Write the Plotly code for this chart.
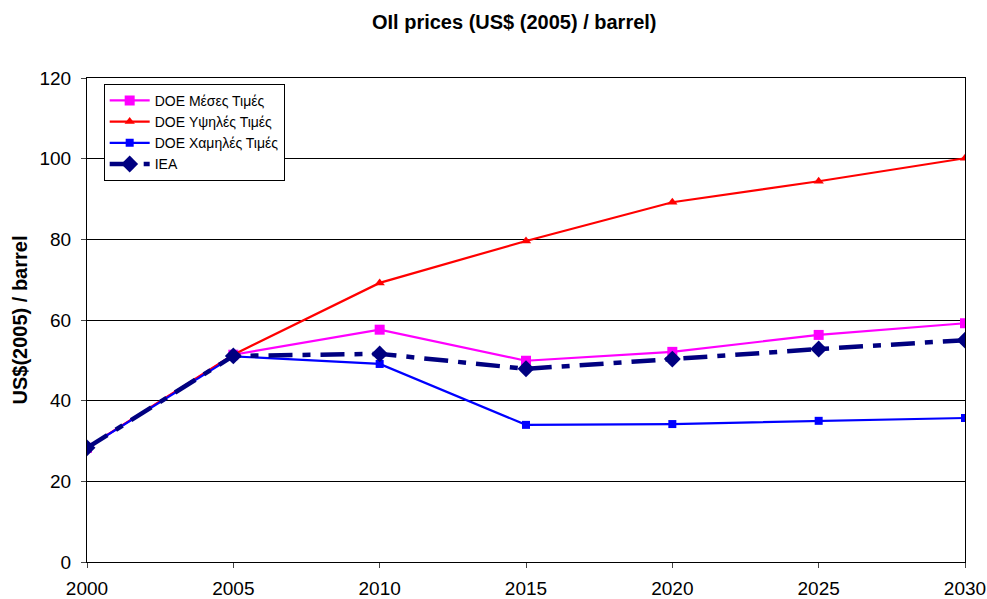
import plotly.graph_objects as go

years = [2000, 2005, 2010, 2015, 2020, 2025, 2030]
doe_mid = [28.3, 51.4, 57.6, 49.9, 52.1, 56.3, 59.2]
doe_high = [28.3, 51.4, 69.2, 79.6, 89.2, 94.4, 100.1]
doe_low = [28.3, 51.0, 49.1, 34.0, 34.2, 35.0, 35.7]
iea = [28.3, 51.1, 51.6, 47.9, 50.3, 52.8, 55.0]

y_ticks = [0, 20, 40, 60, 80, 100, 120]

fig = go.Figure()
fig.add_trace(go.Scatter(
    x=years, y=doe_mid, name="DOE Μέσες Τιμές", mode="lines+markers",
    line=dict(color="#FF00FF", width=2.2),
    marker=dict(symbol="square", size=10, color="#FF00FF"),
))
fig.add_trace(go.Scatter(
    x=years, y=doe_high, name="DOE Υψηλές Τιμές", mode="lines+markers",
    line=dict(color="#FF0000", width=2.2),
    marker=dict(symbol="triangle-up", size=9, color="#FF0000"),
))
fig.add_trace(go.Scatter(
    x=years, y=doe_low, name="DOE Χαμηλές Τιμές", mode="lines+markers",
    line=dict(color="#0000FF", width=2.2),
    marker=dict(symbol="square", size=8, color="#0000FF"),
))
fig.add_trace(go.Scatter(
    x=years, y=iea, name="IEA", mode="lines+markers",
    line=dict(color="#000080", width=4.5, dash="24px,10px,8px,10px"),
    marker=dict(symbol="diamond", size=13, color="#000080"),
))

fig.update_layout(
    width=987, height=599,
    margin=dict(l=87, r=22, t=78, b=37),
    paper_bgcolor="white", plot_bgcolor="white",
    font=dict(family="Arial, Liberation Sans, sans-serif", size=19, color="black"),
    title=dict(
        text="<b>OIl prices (US$ (2005) / barrel)</b>",
        x=0.521, xanchor="center", y=0.963, yanchor="middle",
        font=dict(size=20),
    ),
    legend=dict(
        x=0.019, y=0.988, xanchor="left", yanchor="top",
        bgcolor="white", bordercolor="black", borderwidth=1,
        font=dict(size=14), tracegroupgap=0,
        itemwidth=40,
    ),
    showlegend=True,
)
fig.update_xaxes(
    range=[2000, 2030], tickvals=years, ticks="outside", ticklen=5,
    showgrid=False, showline=True, linecolor="black", linewidth=1,
    mirror=True, zeroline=False, tickfont=dict(size=19), automargin=False,
    ticklabelstandoff=4,
)
fig.update_yaxes(
    range=[0, 120], tickvals=y_ticks, ticks="outside", ticklen=5,
    showgrid=True, gridcolor="black", gridwidth=1,
    showline=True, linecolor="black", linewidth=1, mirror=True,
    zeroline=False, tickfont=dict(size=19), automargin=False,
    ticklabelstandoff=6,
    title=dict(text="<b>US$(2005) / barrel</b>", font=dict(size=20), standoff=6),
)

# drop the default page margin so the full-size figure fits the window
fig.write_html(
    "out.html",
    config={"displayModeBar": False},
    post_script="document.body.style.margin='0';",
)
